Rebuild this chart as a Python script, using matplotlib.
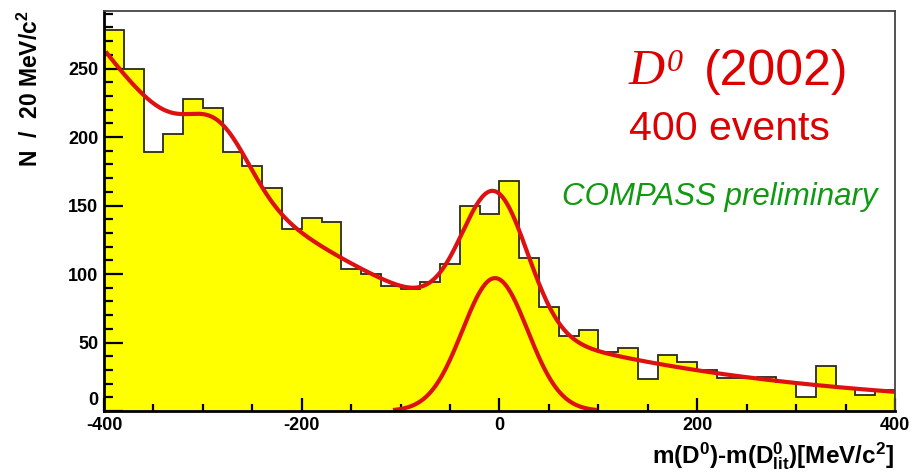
import numpy as np
import matplotlib
matplotlib.use('Agg')
import matplotlib.pyplot as plt
import matplotlib.transforms as mtransforms
from matplotlib.ticker import MultipleLocator

plt.rcParams['font.family'] = ['Liberation Sans', 'DejaVu Sans']
plt.rcParams['mathtext.fontset'] = 'custom'
plt.rcParams['mathtext.rm'] = 'Liberation Sans:bold'
plt.rcParams['mathtext.bf'] = 'Liberation Sans:bold'
plt.rcParams['mathtext.it'] = 'Liberation Sans:bold:italic'

# Гистограмма: 40 бинов по 20 МэВ от -400 до 400
bin_edges = np.arange(-400, 401, 20)
counts = [278, 250, 189, 202, 228, 221, 189, 179, 163, 133,
          141, 138, 104, 100, 91, 89, 94, 107, 150, 144,
          168, 112, 76, 55, 59, 43, 46, 23, 41, 36,
          30, 24, 24, 25, 21, 10, 33, 17, 12, 15]

# Параметры фита: фон exp(p0 + p1 x + p2 x^2), отражение и сигнал (гауссы)
bg_pars = [4.133, -0.003671, -1.61e-7]
refl_amp, refl_mean, refl_sigma = 37.0, -283.0, 31.0
sig_amp, sig_mean, sig_sigma = 97.0, -4.5, 33.0
fit_range = (-397, 400)

x_ticks_major = [-400, -200, 0, 200, 400]
y_ticks_major = [0, 50, 100, 150, 200, 250]


def gauss(x, a, m, s):
    return a * np.exp(-(x - m) ** 2 / (2 * s ** 2))


def background(x):
    return np.exp(bg_pars[0] + bg_pars[1] * x + bg_pars[2] * x ** 2)


W, H = 911, 475
fig = plt.figure(figsize=(W / 100, H / 100), dpi=100)
ax = fig.add_axes([104 / W, 1 - 411 / H, (895 - 104) / W, 400 / H])

# Заливка и контур гистограммы
ax.stairs(counts, bin_edges, fill=True, color='#ffff00', zorder=1)
ax.stairs(counts, bin_edges, color='#2a2a1a', linewidth=1.3, zorder=2)

# Кривые фита
xs = np.linspace(fit_range[0], fit_range[1], 600)
total = background(xs) + gauss(xs, refl_amp, refl_mean, refl_sigma) + gauss(xs, sig_amp, sig_mean, sig_sigma)
ax.plot(xs, total, color='#dd1111', linewidth=3.0, zorder=3)

sig = gauss(xs, sig_amp, sig_mean, sig_sigma)
mask = sig > 0.8
ax.plot(xs[mask], sig[mask], color='#dd1111', linewidth=3.0, zorder=3)

ax.set_xlim(-400, 400)
ax.set_ylim(0, 292)

ax.xaxis.set_minor_locator(MultipleLocator(50))
ax.yaxis.set_minor_locator(MultipleLocator(10))
ax.set_xticks(x_ticks_major)
ax.set_yticks(y_ticks_major)
ax.set_xticklabels([str(v) for v in x_ticks_major])
ax.set_yticklabels([str(v) for v in y_ticks_major])

ax.tick_params(axis='x', which='major', direction='in', length=9.5, width=1.6, pad=4)
ax.tick_params(axis='x', which='minor', direction='in', length=5, width=1.6)
ax.tick_params(axis='y', which='major', direction='in', length=13.5, width=1.6, pad=4)
ax.tick_params(axis='y', which='minor', direction='in', length=6.5, width=1.6)
for lab in ax.get_xticklabels() + ax.get_yticklabels():
    lab.set_fontsize(13)
    lab.set_fontweight('bold')

# как в ROOT: «0» на оси Y чуть выше оси X
ylab0 = ax.get_yticklabels()[0]
ylab0.set_transform(ylab0.get_transform() +
                    mtransforms.ScaledTranslation(0, 9 / 72, fig.dpi_scale_trans))

for side in ['left', 'bottom']:
    ax.spines[side].set_linewidth(2.0)
    ax.spines[side].set_color('black')
for side in ['top', 'right']:
    ax.spines[side].set_linewidth(1.3)
    ax.spines[side].set_color('#444444')
for sp in ax.spines.values():
    sp.set_zorder(5)

# Подписи осей
fig.text(30 / W, 1 - 89 / H, r'N  /  20 MeV/c$^{2}$', rotation=90, fontsize=16.5,
         fontweight='bold', ha='center', va='center')
fig.text(894 / W, 1 - 463 / H,
         r'm(D$^{0}$)-m(D$^{0}_{\mathrm{lit}}$)[MeV/c$^{2}$]',
         fontsize=17.5, fontweight='bold', ha='right', va='baseline')

# Надписи
red = '#dd0000'
fig.text(629 / W, 1 - 84 / H, 'D', fontsize=36, family='Liberation Serif',
         style='italic', color=red, va='baseline')
fig.text(667 / W, 1 - 71 / H, '0', fontsize=23, family='Liberation Serif',
         style='italic', color=red, va='baseline')
fig.text(704 / W, 1 - 85 / H, '(2002)', fontsize=36, color=red, va='baseline')
fig.text(629 / W, 1 - 140 / H, '400 events', fontsize=29.5, color=red, va='baseline')
fig.text(562 / W, 1 - 205 / H, 'COMPASS preliminary', fontsize=22.5, style='italic',
         color='#119911', va='baseline')

fig.savefig('out.png', dpi=100)
